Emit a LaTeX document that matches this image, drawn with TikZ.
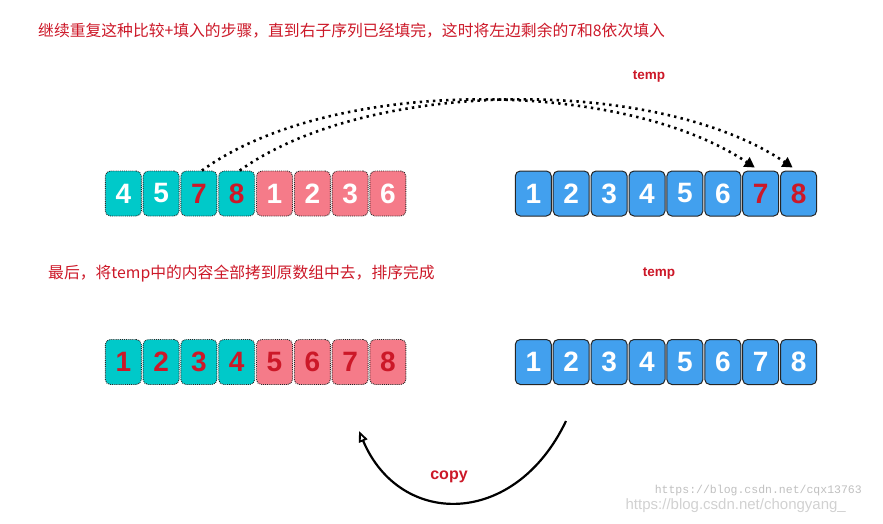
\documentclass[tikz,border=0pt]{standalone}
\usepackage{fontspec}
\setmainfont{Liberation Sans}
\newfontfamily\cjk{Noto Sans CJK SC}
\newfontfamily\monofont{Liberation Mono}
\usetikzlibrary{positioning}
\usetikzlibrary{arrows.meta}

\definecolor{teal0}{RGB}{0,201,201}
\definecolor{pink0}{RGB}{245,123,137}
\definecolor{blue0}{RGB}{66,160,238}
\definecolor{red0}{RGB}{204,24,40}

\begin{document}
\begin{tikzpicture}[x=1pt,y=-1pt,node distance=0.9pt]

\tikzstyle{cell} = [rounded corners=5pt,rectangle,inner sep=0,minimum width=36pt,minimum height=45pt,text=white,font=\bfseries\fontsize{28}{28}\selectfont]
\tikzstyle{left} = [cell,draw=black!85,line width=.9pt,densely dotted]
\tikzstyle{lt} = [left,fill=teal0]
\tikzstyle{lp} = [left,fill=pink0]
\tikzstyle{tmp} = [cell,draw=black!85,line width=1pt,fill=blue0]
\tikzstyle{hl} = [text=red0]
\tikzstyle{note} = [anchor=west,inner sep=0,text=red0,font=\cjk\fontsize{15.8}{15.8}\selectfont]
\tikzstyle{tag} = [inner sep=0,text=red0,font=\bfseries\fontsize{13.5}{13.5}\selectfont]
\tikzstyle{move} = [draw=black,line width=2.6pt,dash pattern=on 2.4pt off 4.2pt,-{Triangle[width=11pt,length=10pt]}]
\tikzstyle{back} = [draw=black,line width=2.2pt,-{Triangle[open,width=9pt,length=11pt,line width=1.8pt]}]

\useasboundingbox (0,0) rectangle (883,524);

\node [note] (text1) at (38,31) {继续重复这种比较+填入的步骤，直到右子序列已经填完，这时将左边剩余的7和8依次填入};
\node [tag] (temp1) at (649,76) {temp};

% first row, left array
\node [lt] (l1) at (123.3,193.5) {4};
\node [lt, right=of l1] (l2) {5};
\node [lt, hl, right=of l2] (l3) {7};
\node [lt, hl, right=of l3] (l4) {8};
\node [lp, right=of l4] (l5) {1};
\node [lp, right=of l5] (l6) {2};
\node [lp, right=of l6] (l7) {3};
\node [lp, right=of l7] (l8) {6};

% first row, temp array
\node [tmp] (r1) at (533.3,193.5) {1};
\node [tmp, right=of r1] (r2) {2};
\node [tmp, right=of r2] (r3) {3};
\node [tmp, right=of r3] (r4) {4};
\node [tmp, right=of r4] (r5) {5};
\node [tmp, right=of r5] (r6) {6};
\node [tmp, hl, right=of r6] (r7) {7};
\node [tmp, hl, right=of r7] (r8) {8};

\draw [move] ([xshift=3pt]l3.north) .. controls (330,77) and (620,77) .. ([xshift=-6pt,yshift=3pt]r7.north);
\draw [move] ([xshift=3pt]l4.north) .. controls (370,77) and (660,77) .. ([xshift=-6pt,yshift=3pt]r8.north);

\node [note] (text2) at (48,274) {最后，将temp中的内容全部拷到原数组中去，排序完成};
\node [tag] (temp2) at (659,273) {temp};

% second row, left array
\node [lt, hl] (m1) at (123.3,362) {1};
\node [lt, hl, right=of m1] (m2) {2};
\node [lt, hl, right=of m2] (m3) {3};
\node [lt, hl, right=of m3] (m4) {4};
\node [lp, hl, right=of m4] (m5) {5};
\node [lp, hl, right=of m5] (m6) {6};
\node [lp, hl, right=of m6] (m7) {7};
\node [lp, hl, right=of m7] (m8) {8};

% second row, temp array
\node [tmp] (s1) at (533.3,362) {1};
\node [tmp, right=of s1] (s2) {2};
\node [tmp, right=of s2] (s3) {3};
\node [tmp, right=of s3] (s4) {4};
\node [tmp, right=of s4] (s5) {5};
\node [tmp, right=of s5] (s6) {6};
\node [tmp, right=of s6] (s7) {7};
\node [tmp, right=of s7] (s8) {8};

\coordinate (from) at (566,421);
\coordinate (to) at (359,431);
\draw [back] (from) .. controls (515,528) and (400,528) .. (to);
\node [tag, font=\bfseries\fontsize{16}{16}\selectfont] (copy) at (449,477) {copy};

\node [anchor=east, inner sep=0, text=black!25, font=\monofont\fontsize{11.5}{11.5}\selectfont] (mark1) at (862,491) {https://blog.csdn.net/cqx13763};
\node [anchor=east, inner sep=0, text=black!18, font=\fontsize{15}{15}\selectfont] (mark2) at (846,506) {https://blog.csdn.net/chongyang\_};
\end{tikzpicture}
\end{document}
